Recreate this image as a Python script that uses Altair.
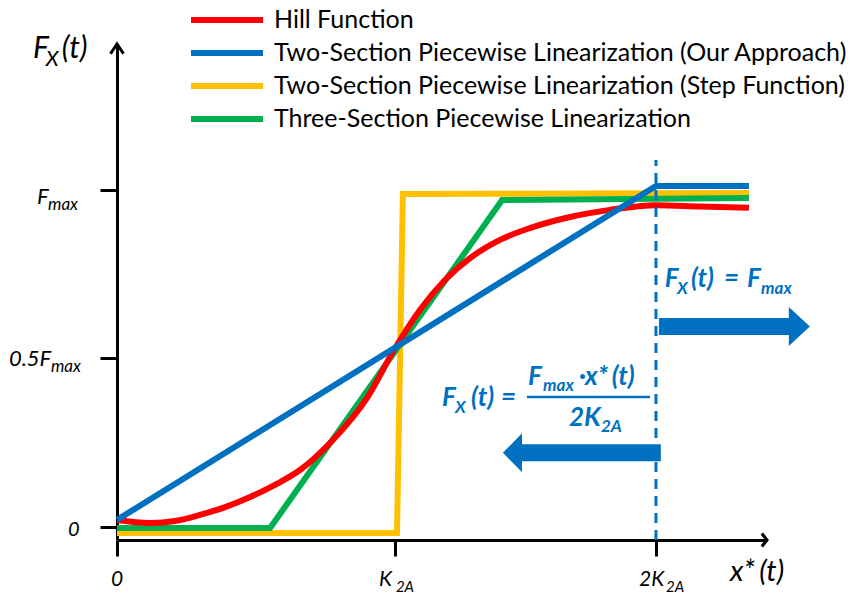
import altair as alt
import pandas as pd

# ---------------- data (x in units of K2A, y in units of Fmax) ----------------
SERIES = [
    "Hill Function",
    "Two-Section Piecewise Linearization (Our Approach)",
    "Two-Section Piecewise Linearization (Step Function)",
    "Three-Section Piecewise Linearization",
]
COLORS = ["#FF0000", "#0070C0", "#FFC000", "#00B050"]

hill_x = [0.0, 0.122, 0.215, 0.308, 0.401, 0.494, 0.586, 0.679, 0.801, 0.928, 1.032,
          1.124, 1.217, 1.310, 1.421, 1.532, 1.681, 1.829, 2.0, 2.163, 2.345]
hill_y = [0.021, 0.012, 0.018, 0.036, 0.059, 0.089, 0.125, 0.169, 0.258, 0.383, 0.531,
          0.644, 0.733, 0.798, 0.852, 0.887, 0.920, 0.941, 0.955, 0.951, 0.947]

two_x = [0.0, 2.0, 2.345]
two_y = [0.021, 1.012, 1.012]

step_x = [0.0, 1.039, 1.061, 2.345]
step_y = [-0.018, -0.018, 0.988, 0.991]

three_x = [0.0, 0.568, 1.429, 2.345]
three_y = [-0.003, -0.003, 0.970, 0.976]

X_TICKS = [0, 1.0315, 2]
Y_TICKS = [0, 0.5, 1]
X_DOMAIN = [0, 2.412]
Y_DOMAIN = [-0.0386, 1.4332]

# ---------------- text pieces (label, x, y, font size) ----------------
black_text = ["F", "X", "(t)", "x*", "(t)", "0", "0.5F", "max", "F", "max",
              "0", "K", "2A", "2K", "2A"]
black_x = [-0.312, -0.264, -0.205, 2.275, 2.383, -0.182, -0.401, -0.245, -0.297, -0.256,
           -0.022, 0.972, 1.035, 1.937, 2.037]
black_y = [1.392, 1.368, 1.392, -0.160, -0.160, -0.027, 0.478, 0.460, 0.958, 0.941,
           -0.175, -0.175, -0.193, -0.175, -0.193]
black_s = [30, 21, 30, 29, 29, 20, 22, 17, 22, 17, 21, 21, 15, 21, 15]

blue_text = ["F", "X", "(t)", "=", "F", "max",
             "F", "X", "(t)", "=", "F", "max", "\u00b7", "x*", "(t)", "2K", "2A"]
blue_x = [2.033, 2.078, 2.130, 2.252, 2.338, 2.390,
          1.206, 1.254, 1.314, 1.425, 1.525, 1.581, 1.714, 1.737, 1.836, 1.677, 1.796]
blue_y = [0.712, 0.691, 0.712, 0.712, 0.712, 0.691,
          0.359, 0.338, 0.359, 0.359, 0.421, 0.404, 0.421, 0.421, 0.421, 0.300, 0.282]
blue_s = [26, 17, 26, 26, 26, 17,
          26, 17, 26, 26, 26, 17, 26, 26, 26, 26, 17]

BLUE = "#0070C0"

# ---------------- frames ----------------
rows = []
for name, xs_, ys_ in [(SERIES[0], hill_x, hill_y), (SERIES[1], two_x, two_y),
                       (SERIES[2], step_x, step_y), (SERIES[3], three_x, three_y)]:
    for i, (a, b) in enumerate(zip(xs_, ys_)):
        rows.append({"series": name, "x": a, "y": b, "i": i})
lines_df = pd.DataFrame(rows)

xs = alt.Scale(domain=X_DOMAIN, nice=False, zero=False)
ys = alt.Scale(domain=Y_DOMAIN, nice=False, zero=False)

x_axis = alt.Axis(values=X_TICKS, labels=False, title=None, grid=False, domainColor="black",
                  domainWidth=3, tickColor="black", tickWidth=3, tickSize=16)
y_axis = alt.Axis(values=Y_TICKS, labels=False, title=None, grid=False, domainColor="black",
                  domainWidth=3, tickColor="black", tickWidth=3, tickSize=17)


def X(field="x"):
    return alt.X(f"{field}:Q", scale=xs, axis=x_axis)


def Y(field="y"):
    return alt.Y(f"{field}:Q", scale=ys, axis=y_axis)


legend = alt.Legend(title=None, orient="none", legendX=71, legendY=-38, symbolType="stroke",
                    symbolSize=5184, symbolStrokeWidth=6, labelFont="Lato", labelFontSize=25,
                    labelLimit=900, clipHeight=28, rowPadding=5, labelOffset=8, padding=0,
                    labelColor="black")
color = alt.Color("series:N", scale=alt.Scale(domain=SERIES, range=COLORS), legend=legend)

layers = []
for s, interp in [(SERIES[2], "linear"), (SERIES[3], "linear"), (SERIES[0], "monotone"),
                  (SERIES[1], "linear")]:
    layers.append(
        alt.Chart(lines_df).transform_filter(alt.datum.series == s)
        .mark_line(strokeWidth=6, interpolate=interp)
        .encode(x=X(), y=Y(), color=color, order="i:Q")
    )

# dashed vertical at 2K
dash_df = pd.DataFrame({"x": [2.0], "y": [Y_DOMAIN[0]], "y2": [1.089]})
layers.append(alt.Chart(dash_df).mark_rule(color=BLUE, strokeWidth=3, strokeDash=[10, 7])
              .encode(x=X(), y=Y(), y2="y2:Q"))

# arrow shafts
shaft_df = pd.DataFrame({"x": [2.011, 2.018], "x2": [2.497, 1.495], "y": [0.595, 0.220]})
layers.append(alt.Chart(shaft_df).mark_rule(color=BLUE, strokeWidth=17, strokeCap="butt")
              .encode(x=X(), x2="x2:Q", y=Y()))
# arrow heads
layers.append(alt.Chart(pd.DataFrame({"x": [2.532], "y": [0.595]}))
              .mark_point(shape="M-0.54,-1L0.54,0L-0.54,1Z", filled=True, size=1521,
                          color=BLUE, opacity=1, strokeWidth=0)
              .encode(x=X(), y=Y()))
layers.append(alt.Chart(pd.DataFrame({"x": [1.4675], "y": [0.220]}))
              .mark_point(shape="M0.49,-1L-0.49,0L0.49,1Z", filled=True, size=1521,
                          color=BLUE, opacity=1, strokeWidth=0)
              .encode(x=X(), y=Y()))

# fraction line
frac_df = pd.DataFrame({"x": [1.521], "x2": [1.978], "y": [0.386]})
layers.append(alt.Chart(frac_df).mark_rule(color=BLUE, strokeWidth=2.5)
              .encode(x=X(), x2="x2:Q", y=Y()))

# axis arrowheads
layers.append(alt.Chart(pd.DataFrame({"x": [0.0], "y": [Y_DOMAIN[1]]}))
              .mark_point(shape="M-1,1.5L0,0L1,1.5", filled=False, size=169, color="black",
                          opacity=1, strokeWidth=3)
              .encode(x=X(), y=Y()))
layers.append(alt.Chart(pd.DataFrame({"x": [X_DOMAIN[1]], "y": [Y_DOMAIN[0]]}))
              .mark_point(shape="M-0.8,-1L0,0L-0.8,1", filled=False, size=169, color="black",
                          opacity=1, strokeWidth=3)
              .encode(x=X(), y=Y()))

# texts
bdf = pd.DataFrame({"t": black_text, "x": black_x, "y": black_y, "s": black_s})
layers.append(alt.Chart(bdf).mark_text(font="Lato", fontStyle="italic", align="left",
                                       baseline="alphabetic", color="black")
              .encode(x=X(), y=Y(), text="t:N", size=alt.Size("s:Q", scale=None)))
udf = pd.DataFrame({"t": blue_text, "x": blue_x, "y": blue_y, "s": blue_s})
layers.append(alt.Chart(udf).mark_text(font="Lato", fontStyle="italic", fontWeight="bold",
                                       align="left", baseline="alphabetic", color=BLUE)
              .encode(x=X(), y=Y(), text="t:N", size=alt.Size("s:Q", scale=None)))

chart = alt.layer(*layers).properties(
    width=650, height=496,
    padding={"left": 109, "top": 36, "right": 82, "bottom": 55},
    autosize=alt.AutoSizeParams(type="none"),
    background="white",
).configure_view(stroke=None)

chart.save("out.html", embed_options={"renderer": "svg", "actions": False})
